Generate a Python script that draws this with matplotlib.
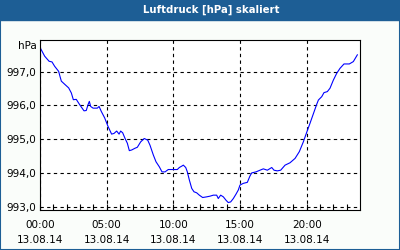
import matplotlib
matplotlib.use("Agg")
import matplotlib.pyplot as plt
from matplotlib.patches import Rectangle

# Luftdruck 13.08.14, Stunden seit 00:00
hours = [0.0, 0.35, 0.68, 0.9, 1.1, 1.4, 1.5, 1.6, 1.9, 2.15, 2.35, 2.5, 2.72,
         2.98, 3.3, 3.47, 3.6, 3.7, 3.8, 3.98, 4.3, 4.43, 4.6, 4.85, 5.1, 5.37,
         5.55, 5.75, 5.93, 6.05, 6.2, 6.38, 6.55, 6.7, 6.88, 7.12, 7.3, 7.55,
         7.82, 8.08, 8.25, 8.5, 8.7, 8.95, 9.15, 9.38, 9.62, 10.0, 10.3, 10.45,
         10.63, 10.75, 10.93, 11.05, 11.2, 11.38, 11.55, 11.75, 11.95, 12.2,
         12.5, 12.75, 13.0, 13.25, 13.37, 13.55, 13.75, 13.95, 14.12, 14.3,
         14.5, 14.7, 14.87, 15.0, 15.25, 15.55, 15.75, 15.88, 16.2, 16.5,
         16.75, 17.05, 17.38, 17.55, 17.8, 18.05, 18.38, 18.75, 19.13, 19.45,
         19.75, 20.0, 20.25, 20.5, 20.75, 20.88, 21.13, 21.3, 21.55, 21.75,
         22.0, 22.25, 22.5, 22.8, 23.2, 23.5, 23.8]
pressure = [997.72, 997.46, 997.31, 997.29, 997.16, 997.01, 996.86, 996.72,
            996.61, 996.52, 996.37, 996.17, 996.18, 996.02, 995.84, 995.85,
            996.02, 996.12, 995.97, 995.92, 995.92, 995.97, 995.82, 995.63,
            995.38, 995.15, 995.17, 995.24, 995.15, 995.24, 995.19, 995.02,
            994.88, 994.66, 994.68, 994.73, 994.76, 994.92, 995.02, 994.97,
            994.82, 994.53, 994.33, 994.18, 994.03, 994.03, 994.10, 994.10,
            994.10, 994.16, 994.20, 994.23, 994.16, 994.03, 993.79, 993.54,
            993.44, 993.41, 993.34, 993.27, 993.29, 993.31, 993.34, 993.34,
            993.24, 993.34, 993.29, 993.19, 993.12, 993.14, 993.24, 993.37,
            993.49, 993.64, 993.69, 993.72, 993.91, 994.0, 994.03, 994.08,
            994.12, 994.08, 994.16, 994.08, 994.06, 994.08, 994.23, 994.30,
            994.43, 994.63, 994.92, 995.2, 995.47, 995.75, 996.03, 996.16,
            996.26, 996.38, 996.41, 996.51, 996.75, 996.95, 997.10, 997.23,
            997.23, 997.30, 997.50]

y_ticks = [993, 994, 995, 996, 997]
x_ticks = [0, 5, 10, 15, 20]
x_labels = ["00:00\n13.08.14", "05:00\n13.08.14", "10:00\n13.08.14",
            "15:00\n13.08.14", "20:00\n13.08.14"]

bar_blue = "#1d5e95"

fig = plt.figure(figsize=(4, 2.5), dpi=100)
fig.patch.set_facecolor("#fafdfa")

# Rahmen und Titelleiste
fig.add_artist(Rectangle((0, 0), 1, 1, transform=fig.transFigure,
                         fill=False, edgecolor=bar_blue, linewidth=1.5))
fig.add_artist(Rectangle((0, 1 - 20 / 250), 1, 20 / 250,
                         transform=fig.transFigure, color=bar_blue))
fig.text(211 / 400, 1 - 10 / 250, "Luftdruck [hPa] skaliert", color="white",
         fontsize=7.3, fontweight="bold", ha="center", va="center")

ax = fig.add_axes([0.1, 0.16, 0.8, 0.68])
ax.set_facecolor("white")
ax.plot(hours, pressure, color="#0000ff", linewidth=0.8)

ax.set_xlim(0, 24)
ax.set_ylim(992.9, 997.94)

ax.set_yticks(y_ticks)
ax.set_yticklabels([f"{v:.1f}".replace(".", ",") for v in y_ticks])
ax.set_xticks(x_ticks)
ax.set_xticklabels(x_labels, linespacing=1.6)
ax.set_xticks(range(1, 24), minor=True)

ax.tick_params(axis="y", length=0, pad=3, labelsize=7.5)
ax.tick_params(axis="x", which="both", direction="in", length=4,
               width=0.8, labelsize=7.5, pad=7)

ax.grid(True, color="black", linestyle=(0, (3, 3)), linewidth=0.8)
for sp in ax.spines.values():
    sp.set_linewidth(0.8)

fig.text(37 / 400, 1 - 46 / 250, "hPa", fontsize=7.5, ha="right",
         va="center")

fig.savefig("out.png", dpi=100, facecolor=fig.get_facecolor())
